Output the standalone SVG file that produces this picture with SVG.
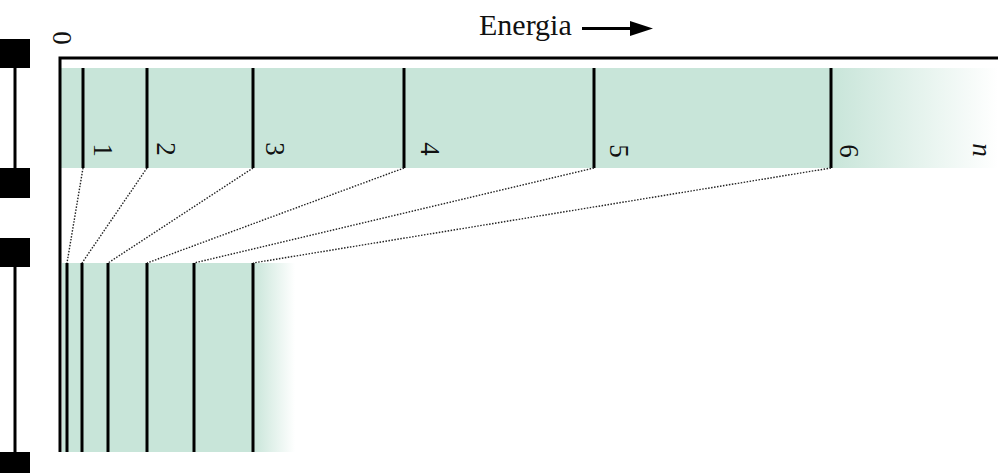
<svg xmlns="http://www.w3.org/2000/svg" width="998" height="473" viewBox="0 0 998 473">
  <defs>
    <linearGradient id="fadeTop" x1="0" y1="0" x2="1" y2="0">
      <stop offset="0" stop-color="#c8e5d9"/>
      <stop offset="1" stop-color="#c8e5d9" stop-opacity="0"/>
    </linearGradient>
    <linearGradient id="fadeBottom" x1="0" y1="0" x2="1" y2="0">
      <stop offset="0" stop-color="#c8e5d9"/>
      <stop offset="1" stop-color="#c8e5d9" stop-opacity="0"/>
    </linearGradient>
  </defs>
  <style>
    .band { fill: #c8e5d9; }
    .level { stroke: #000; stroke-width: 3; }
    .axis { stroke: #000; stroke-width: 3; fill: none; }
    .dots { stroke: #222; stroke-width: 1.4; stroke-dasharray: 1.5 1.5; fill: none; }
    .lbl { font-family: "Liberation Serif", "DejaVu Serif", serif; font-size: 27px; fill: #111; }
    .title { font-family: "Liberation Serif", "DejaVu Serif", serif; font-size: 30px; fill: #111; }
    .sq { fill: #000; }
  </style>

  <rect width="998" height="473" fill="#fff"/>

  <!-- scale bar on the left -->
  <g id="scale">
    <line x1="15" y1="50" x2="15" y2="180" class="axis"/>
    <line x1="15" y1="250" x2="15" y2="460" class="axis"/>
    <rect class="sq" x="0" y="39" width="30" height="29"/>
    <rect class="sq" x="0" y="168" width="30" height="30"/>
    <rect class="sq" x="0" y="238" width="30" height="29"/>
    <rect class="sq" x="0" y="452" width="30" height="21"/>
  </g>

  <!-- upper band -->
  <g id="band-top">
    <rect class="band" x="61" y="68" width="771" height="100"/>
    <rect x="831" y="68" width="167" height="100" fill="url(#fadeTop)"/>
    <line class="level" x1="83" y1="68" x2="83" y2="168"/>
    <line class="level" x1="147" y1="68" x2="147" y2="168"/>
    <line class="level" x1="253" y1="68" x2="253" y2="168"/>
    <line class="level" x1="404" y1="68" x2="404" y2="168"/>
    <line class="level" x1="594" y1="68" x2="594" y2="168"/>
    <line class="level" x1="831" y1="68" x2="831" y2="168"/>
    <text class="lbl" text-anchor="middle" transform="translate(94,150) rotate(90)">1</text>
    <text class="lbl" text-anchor="middle" transform="translate(157,149) rotate(90)">2</text>
    <text class="lbl" text-anchor="middle" transform="translate(266,149) rotate(90)">3</text>
    <text class="lbl" text-anchor="middle" transform="translate(421,149) rotate(90)">4</text>
    <text class="lbl" text-anchor="middle" transform="translate(610,151) rotate(90)">5</text>
    <text class="lbl" text-anchor="middle" transform="translate(840,151) rotate(90)">6</text>
    <text class="lbl" text-anchor="middle" font-style="italic" transform="translate(973,150) rotate(90)">n</text>
  </g>

  <!-- lower band -->
  <g id="band-bottom">
    <rect class="band" x="62" y="263" width="192" height="189"/>
    <rect x="253" y="263" width="42" height="189" fill="url(#fadeBottom)"/>
    <line class="level" x1="67" y1="263" x2="67" y2="452"/>
    <line class="level" x1="82" y1="263" x2="82" y2="452"/>
    <line class="level" x1="108" y1="263" x2="108" y2="452"/>
    <line class="level" x1="147" y1="263" x2="147" y2="452"/>
    <line class="level" x1="194" y1="263" x2="194" y2="452"/>
    <line class="level" x1="253" y1="263" x2="253" y2="452"/>
  </g>

  <!-- axes -->
  <g id="axes">
    <polyline class="axis" points="998,58 60,58 60,452"/>
    <text class="lbl" text-anchor="middle" transform="translate(53,38) rotate(90)">0</text>
  </g>

  <!-- energy label with its arrow -->
  <g id="energy">
    <text class="title" x="479" y="35">Energia</text>
    <line x1="582" y1="28.5" x2="634" y2="28.5" stroke="#000" stroke-width="3"/>
    <path d="M630,21 L653,28.5 L630,36 Z" fill="#000"/>
  </g>

  <!-- connectors between the two bands -->
  <g id="connectors">
    <line class="dots" x1="83" y1="168" x2="67" y2="263"/>
    <line class="dots" x1="147" y1="168" x2="82" y2="263"/>
    <line class="dots" x1="253" y1="168" x2="108" y2="263"/>
    <line class="dots" x1="404" y1="168" x2="147" y2="263"/>
    <line class="dots" x1="594" y1="168" x2="194" y2="263"/>
    <line class="dots" x1="831" y1="168" x2="253" y2="263"/>
  </g>
</svg>
